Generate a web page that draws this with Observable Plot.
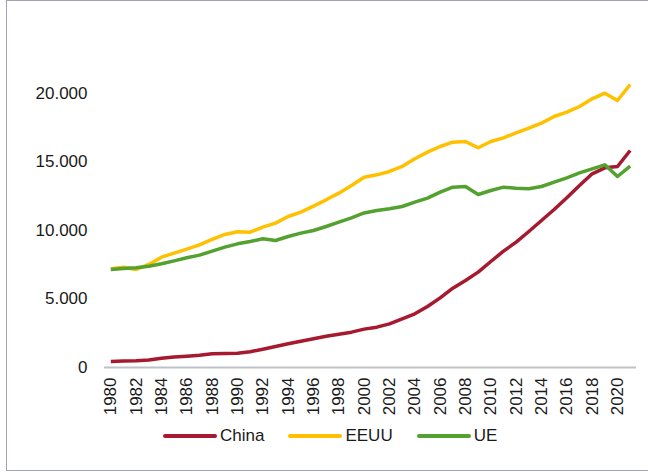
<!DOCTYPE html>
<html>
<head>
<meta charset="utf-8">
<script src="https://cdn.jsdelivr.net/npm/d3@7"></script>
<script src="https://cdn.jsdelivr.net/npm/@observablehq/plot@0.6"></script>
<style>
  html, body { margin: 0; padding: 0; background: #fff; }
  #wrap { position: relative; width: 648px; height: 472px; overflow: hidden; font-family: "Liberation Sans", Arial, sans-serif; color: #1a1a1a; }
  #frame { position: absolute; left: 6px; top: 0px; width: 660px; height: 469px; border: 1px solid #a2a2b2; box-sizing: content-box; }
  #chart { position: absolute; left: 0; top: 0; }
  #legend { position: absolute; left: 163px; top: 426px; display: flex; align-items: center; gap: 24px; font-size: 17px; }
  .item { display: flex; align-items: center; gap: 3px; }
  .sw { display: inline-block; width: 54px; height: 4px; border-radius: 2px; }
</style>
</head>
<body>
<div id="wrap">
  <div id="frame"></div>
  <div id="chart"></div>
  <div id="legend"></div>
</div>
<script>
const years = [1980,1981,1982,1983,1984,1985,1986,1987,1988,1989,
               1990,1991,1992,1993,1994,1995,1996,1997,1998,1999,
               2000,2001,2002,2003,2004,2005,2006,2007,2008,2009,
               2010,2011,2012,2013,2014,2015,2016,2017,2018,2019,
               2020,2021];
const china = [438,470,489,550,679,760,825,900,1000,1030,
               1044,1150,1336,1530,1730,1910,2095,2280,2420,2580,
               2800,2944,3187,3552,3917,4453,5085,5792,6351,6960,
               7738,8492,9149,9928,10731,11534,12385,13286,14137,14576,
               14673,15841];
const eeuu = [7205,7322,7154,7519,8055,8346,8638,8955,9344,9709,
              9903,9879,10245,10537,11023,11340,11777,12239,12727,13286,
              13892,14064,14308,14673,15233,15720,16133,16450,16498,16036,
              16498,16766,17131,17471,17836,18323,18640,19053,19613,20026,
              19491,20659];
const ue = [7154,7227,7276,7397,7568,7786,8006,8200,8492,8784,
            9027,9198,9392,9271,9563,9806,10001,10293,10610,10926,
            11280,11461,11583,11753,12070,12362,12800,13165,13213,12629,
            12921,13165,13092,13043,13213,13530,13846,14211,14503,14795,
            13943,14698];
const seriesNames = ["China", "EEUU", "UE"];
const seriesColors = ["#a6192e", "#ffc000", "#53a12f"];
const xTicks = [1980,1982,1984,1986,1988,1990,1992,1994,1996,1998,2000,
                2002,2004,2006,2008,2010,2012,2014,2016,2018,2020];
const yTicks = [0, 5000, 10000, 15000, 20000];

const seriesValues = [china, eeuu, ue];
const data = [];
seriesNames.forEach((name, s) => {
  years.forEach((yr, i) => data.push({series: name, year: yr, value: seriesValues[s][i]}));
});

const es = d3.formatLocale({decimal: ",", thousands: ".", grouping: [3], currency: ["", " €"]});
const fmt = es.format(",d");

const chart = Plot.plot({
  width: 648,
  height: 425,
  marginLeft: 104,
  marginRight: 12,
  marginTop: 93,
  marginBottom: 58,
  style: {fontFamily: "'Liberation Sans', Arial, sans-serif", fontSize: "17px", color: "#1a1a1a", background: "transparent", overflow: "visible"},
  x: {type: "linear", domain: [1979.5, 2021.5]},
  y: {domain: [0, 20000]},
  color: {domain: seriesNames, range: seriesColors},
  marks: [
    Plot.ruleY([0], {stroke: "#bfc1c6", strokeWidth: 2}),
    Plot.axisY({ticks: yTicks, tickSize: 0, tickPadding: 17, tickFormat: fmt, label: null}),
    Plot.axisX({ticks: xTicks, tickSize: 0, tickPadding: 10, tickRotate: -90, tickFormat: d => String(d), label: null}),
    Plot.line(data, {x: "year", y: "value", z: "series", stroke: "series", strokeWidth: 3.5, strokeLinejoin: "round", strokeLinecap: "butt"})
  ]
});
document.getElementById("chart").appendChild(chart);

const legend = document.getElementById("legend");
seriesNames.forEach((name, i) => {
  const item = document.createElement("div");
  item.className = "item";
  const sw = document.createElement("span");
  sw.className = "sw";
  sw.style.background = seriesColors[i];
  const tx = document.createElement("span");
  tx.textContent = name;
  item.appendChild(sw);
  item.appendChild(tx);
  legend.appendChild(item);
});
</script>
</body>
</html>
